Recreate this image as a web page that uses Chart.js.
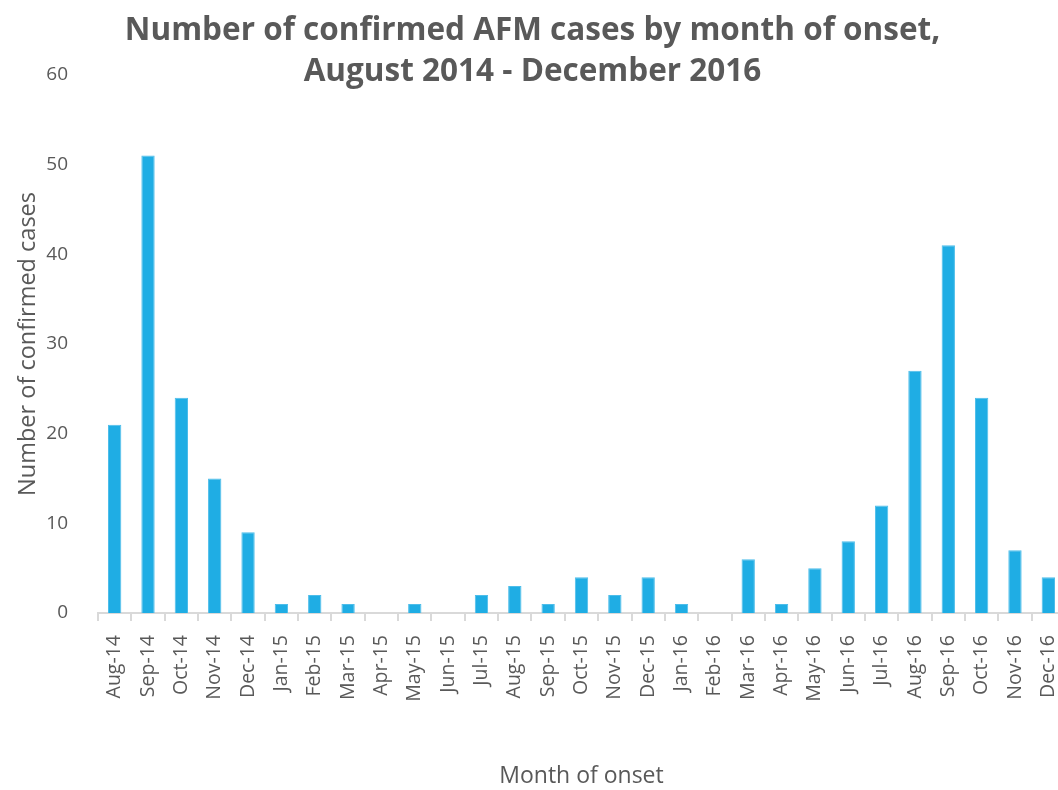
<!DOCTYPE html>
<html>
<head>
<meta charset="utf-8">
<script src="https://cdn.jsdelivr.net/npm/chart.js@4.4.1/dist/chart.umd.min.js"></script>
<style>
html,body{margin:0;padding:0;background:#fff;overflow:hidden;}
#wrap{position:relative;width:1065px;height:790px;}
</style>
</head>
<body>
<div id="wrap"><canvas id="c"></canvas></div>
<script>
const months = ["Aug-14","Sep-14","Oct-14","Nov-14","Dec-14","Jan-15","Feb-15","Mar-15","Apr-15","May-15","Jun-15","Jul-15","Aug-15","Sep-15","Oct-15","Nov-15","Dec-15","Jan-16","Feb-16","Mar-16","Apr-16","May-16","Jun-16","Jul-16","Aug-16","Sep-16","Oct-16","Nov-16","Dec-16"];
const cases = [21,51,24,15,9,1,2,1,0,1,0,2,3,1,4,2,4,1,0,6,1,5,8,12,27,41,24,7,4];
const yTicks = [0,10,20,30,40,50,60];
const titleLines = ["Number of confirmed AFM cases by month of onset,","August 2014 - December 2016"];

const grey = '#595959';
new Chart(document.getElementById('c'), {
  type: 'bar',
  data: {
    labels: months,
    datasets: [{
      data: cases,
      backgroundColor: '#1FADE4',
      borderColor: '#4DBDEA',
      borderWidth: 1,
      barPercentage: 0.4,
      categoryPercentage: 1.0
    }]
  },
  options: {
    responsive: true,
    maintainAspectRatio: false,
    animation: false,
    layout: {padding: {top: 0, right: 0, left: 0, bottom: 0}},
    plugins: {
      legend: {display: false},
      tooltip: {enabled: false},
      title: {
        display: true,
        text: titleLines,
        color: grey,
        font: {family: 'Open Sans', size: 31.5, weight: 'bold', lineHeight: 1.3},
        padding: {top: 11, bottom: -18}
      }
    },
    scales: {
      x: {
        grid: {display: true, drawOnChartArea: false, drawTicks: true, tickLength: 8, color: '#D9D9D9', offset: true, lineWidth: 2},
        border: {display: true, color: '#D9D9D9', width: 2},
        ticks: {color: grey, font: {family: 'Open Sans', size: 19.5}, minRotation: 90, maxRotation: 90, autoSkip: false, padding: 14},
        title: {display: true, text: 'Month of onset', color: grey, font: {family: 'Open Sans', size: 23}, padding: {top: 0, bottom: 0}},
        afterFit: s => { s.height = 177; s.paddingRight = 0; s.paddingLeft = 0; }
      },
      y: {
        min: 0, max: 60,
        afterBuildTicks: s => { s.ticks = yTicks.map(v => ({value: v})); },
        grid: {display: false},
        border: {display: false},
        ticks: {color: grey, font: {family: 'Open Sans', size: 19}, padding: 22},
        title: {display: true, text: 'Number of confirmed cases', color: grey, font: {family: 'Open Sans', size: 23.5}, padding: {top: 14, bottom: 0}},
        afterFit: s => { s.width = 98; }
      }
    }
  }
});
</script>
</body>
</html>
